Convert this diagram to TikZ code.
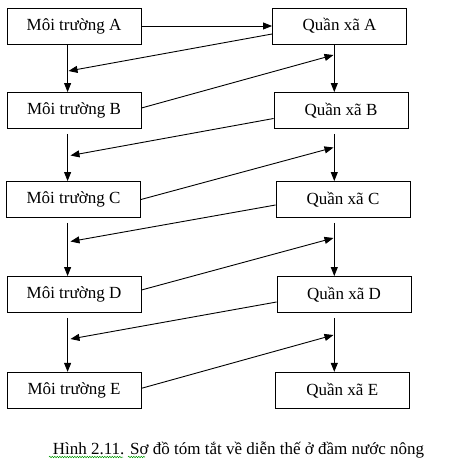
\documentclass[tikz,border=0pt]{standalone}
\usepackage{fontspec}
\setmainfont{Liberation Serif}
\usetikzlibrary{arrows.meta,decorations.pathmorphing}
\begin{document}
\begin{tikzpicture}[x=1pt,y=-1pt,
  box/.style={draw,line width=0.9pt,minimum width=134pt,minimum height=36pt,inner sep=0pt,font=\fontsize{17}{20}\selectfont},
  arr/.style={line width=0.9pt,-{Triangle[length=9pt,width=7pt]}},
  gap/.style={shorten <=5pt}]
\useasboundingbox (0,0) rectangle (455,467);
\node[box] (mA) at (74,26) {Môi trường A};
\node[box] (mB) at (74,110.5) {Môi trường B};
\node[box] (mC) at (73.5,199.5) {Môi trường C};
\node[box] (mD) at (74,294.5) {Môi trường D};
\node[box] (mE) at (74,390.3) {Môi trường E};
\node[box] (qA) at (339.5,26) {Quần xã A};
\node[box] (qB) at (341,110.5) {Quần xã B};
\node[box] (qC) at (343,199.5) {Quần xã C};
\node[box] (qD) at (344,294.5) {Quần xã D};
\node[box] (qE) at (342.3,390.3) {Quần xã E};
\coordinate (lx) at (67.6,0);
\coordinate (rx) at (334.3,0);
\coordinate (la) at (68.5,71);
\coordinate (lb) at (70.5,155.5);
\coordinate (lc) at (70.5,241.5);
\coordinate (ld) at (70.5,339);
\coordinate (ra) at (333.5,55);
\coordinate (rb) at (333.5,147.5);
\coordinate (rc) at (333.5,238);
\coordinate (rd) at (333.5,335);
% horizontal
\draw[arr] (mA.east) -- (qA.west);
% verticals
\draw[arr] (mA.south -| lx) -- (mB.north -| lx);
\draw[arr,gap] (mB.south -| lx) -- (mC.north -| lx);
\draw[arr,gap] (mC.south -| lx) -- (mD.north -| lx);
\draw[arr,gap] (mD.south -| lx) -- (mE.north -| lx);
\draw[arr] (qA.south -| rx) -- (qB.north -| rx);
\draw[arr,gap] (qB.south -| rx) -- (qC.north -| rx);
\draw[arr,gap] (qC.south -| rx) -- (qD.north -| rx);
\draw[arr,gap] (qD.south -| rx) -- (qE.north -| rx);
% diagonals
\draw[arr] ([yshift=-8pt]qA.west) -- (la);
\draw[arr] ([yshift=-8pt]qB.west) -- (lb);
\draw[arr] ([yshift=-5.5pt]qC.west) -- (lc);
\draw[arr] ([yshift=-7.5pt]qD.west) -- (ld);
\draw[arr] ([yshift=2.5pt]mB.east) -- (ra);
\draw[arr] ([yshift=0pt]mC.east) -- (rb);
\draw[arr] ([yshift=4.5pt]mD.east) -- (rc);
\draw[arr] ([yshift=2pt]mE.east) -- (rd);
% caption
\node[anchor=base,inner sep=0pt,font=\fontsize{17}{20}\selectfont] (cap) at (238.5,454) {Hình 2.11. Sơ đồ tóm tắt về diễn thế ở đầm nước nông};
\draw[green!60!black,line width=0.5pt,decorate,decoration={snake,amplitude=0.7pt,segment length=2.5pt}] (49,457) -- (123,457);
\draw[green!60!black,line width=0.5pt,decorate,decoration={snake,amplitude=0.7pt,segment length=2.5pt}] (128,457) -- (145,457);
\end{tikzpicture}
\end{document}
